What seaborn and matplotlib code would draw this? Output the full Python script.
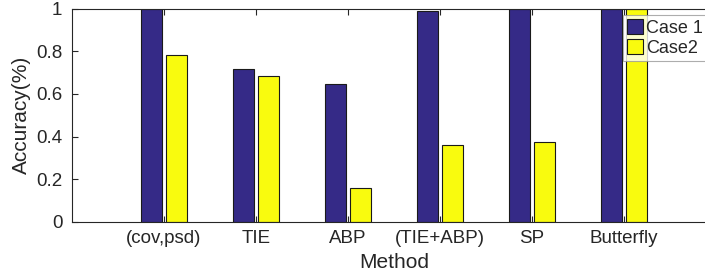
import matplotlib
matplotlib.use("Agg")
import matplotlib.pyplot as plt
import pandas as pd
import seaborn as sns

methods = ["(cov,psd)", "TIE", "ABP", "(TIE+ABP)", "SP", "Butterfly"]
case1 = [1.0, 0.715, 0.646, 0.99, 1.0, 1.0]
case2 = [0.781, 0.682, 0.158, 0.361, 0.375, 1.0]
series = ["Case 1", "Case2"]

df = pd.DataFrame({
    "Method": methods * 2,
    "Accuracy": case1 + case2,
    "Case": [series[0]] * len(methods) + [series[1]] * len(methods),
})

sns.set_style("ticks")
plt.rcParams["font.family"] = ["Liberation Sans", "DejaVu Sans"]
plt.rcParams["font.size"] = 13.5

fig = plt.figure(figsize=(7.05, 2.77), dpi=100)
ax = fig.add_axes([72 / 705, 55 / 277, 644 / 705, 213.5 / 277])

sns.barplot(data=df, x="Method", y="Accuracy", hue="Case", order=methods,
            hue_order=series, palette=["#352a87", "#f9fb0e"],
            width=0.56, gap=0.18, edgecolor="#1a1a1a", linewidth=0.8,
            saturation=1, ax=ax, legend=True)

ax.set_xlim(-1, 6)
ax.set_ylim(0, 1)
ax.set_yticks([0, 0.2, 0.4, 0.6, 0.8, 1])
ax.set_yticklabels(["0", "0.2", "0.4", "0.6", "0.8", "1"])
ax.set_xlabel("Method", fontsize=15, color="#262626", labelpad=4)
ax.set_ylabel("Accuracy(%)", fontsize=15, color="#262626", labelpad=4)
ax.tick_params(direction="in", top=True, right=True, length=4,
               labelsize=13.5, colors="#262626", width=0.8)
ax.tick_params(axis="x", pad=6)
ax.tick_params(axis="y", pad=7)
for s in ax.spines.values():
    s.set_color("#262626")
    s.set_linewidth(0.8)

leg = ax.legend(loc="upper left", bbox_to_anchor=(0.856, 0.968),
                frameon=True, fancybox=False, fontsize=13,
                handlelength=0.9, handleheight=0.9, handletextpad=0.15,
                borderpad=0.2, labelspacing=0.15, borderaxespad=0)
leg.get_frame().set_edgecolor("#999999")
leg.get_frame().set_linewidth(0.8)

fig.savefig("out.png", dpi=100)
